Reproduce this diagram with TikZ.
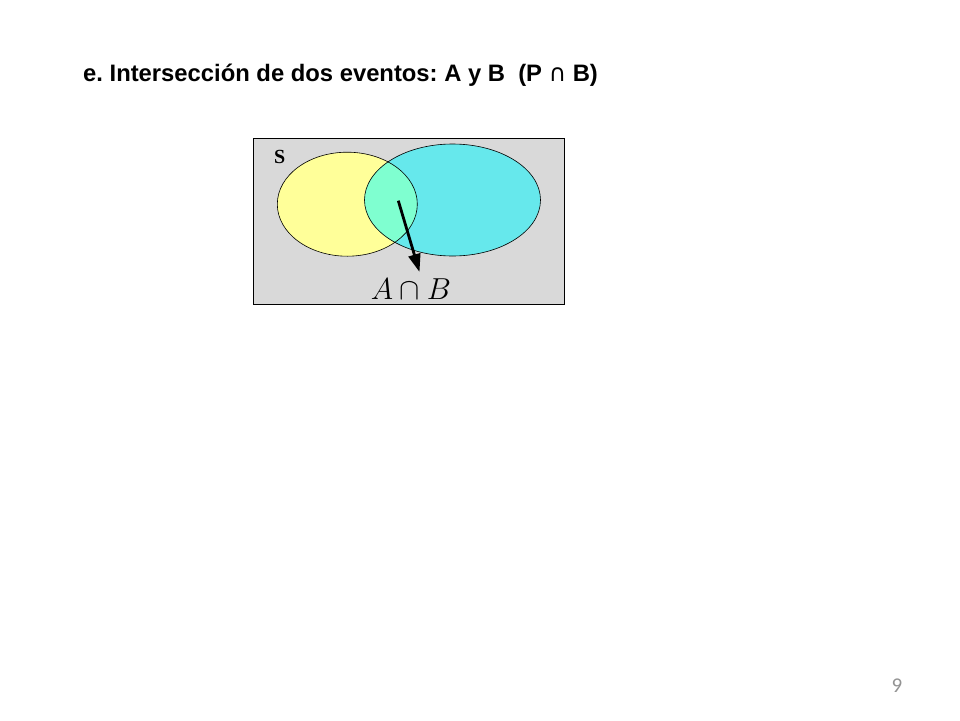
\documentclass[tikz,border=0pt]{standalone}
\usepackage{fontspec}
\usepackage{amsmath,amssymb}
\setmainfont{Liberation Serif}
\newfontfamily\titlefont{Liberation Sans}
\newfontfamily\symfont{DejaVu Sans}
\newfontfamily\pagefont{Carlito}
\usetikzlibrary{arrows.meta}
\usetikzlibrary{positioning}

\definecolor{sgray}{HTML}{D9D9D9}
\definecolor{ayellow}{HTML}{FFFF99}
\definecolor{bcyan}{HTML}{66E8EC}
\definecolor{abgreen}{HTML}{7FFFD0}

\tikzset{
  setA/.style = {draw=black, fill=ayellow, line width=0.6pt},
  setB/.style = {draw=black, fill=bcyan, line width=0.6pt},
  pointer/.style = {-{Triangle[length=18pt,width=12pt]}, line width=2.8pt}
}

\begin{document}
\frenchspacing
\begin{tikzpicture}[x=1pt, y=-1pt]
      \useasboundingbox (0,0) rectangle (960,720);
      % sample space
      \draw[fill=sgray, line width=0.6pt] (253,138) rectangle (564,304);
      \node[font=\fontsize{20}{20}\selectfont, anchor=base west, inner sep=0pt] (S) at (274,163) {\textbf{S}};

      % the two events
      \coordinate (cA) at (347.3,204.2);
      \coordinate (cB) at (452.5,200);
      \fill[ayellow] (cA) ellipse [x radius=70, y radius=52];
      \fill[bcyan] (cB) ellipse [x radius=88, y radius=56];
      \begin{scope}
        \clip (cA) ellipse [x radius=70, y radius=52];
        \fill[abgreen] (cB) ellipse [x radius=88, y radius=56];
      \end{scope}
      \draw[line width=0.6pt] (cA) ellipse [x radius=70, y radius=52];
      \draw[line width=0.6pt] (cB) ellipse [x radius=88, y radius=56];

      % label of the intersection
      \node[anchor=base, inner sep=0pt, scale=1.22, font=\Huge] (AB) at (411,299) {$A\cap B$};
      \coordinate (from) at (398.3,200.7);
      \coordinate (tip) at (419.5,272);
      \draw[pointer] (from) -- (tip);

      \node[anchor=base west, inner sep=0pt, font=\titlefont\bfseries\fontsize{23.8}{23.8}\selectfont] (title) at (83,81)
        {e. Intersecci\'on de dos eventos: A y B\ \ (P {\symfont\mdseries\symbol{"2229}} B)};
      \node[anchor=base, inner sep=0pt, text=gray!85, font=\pagefont\fontsize{21}{21}\selectfont] (page) at (897,692) {9};
\end{tikzpicture}
\end{document}
